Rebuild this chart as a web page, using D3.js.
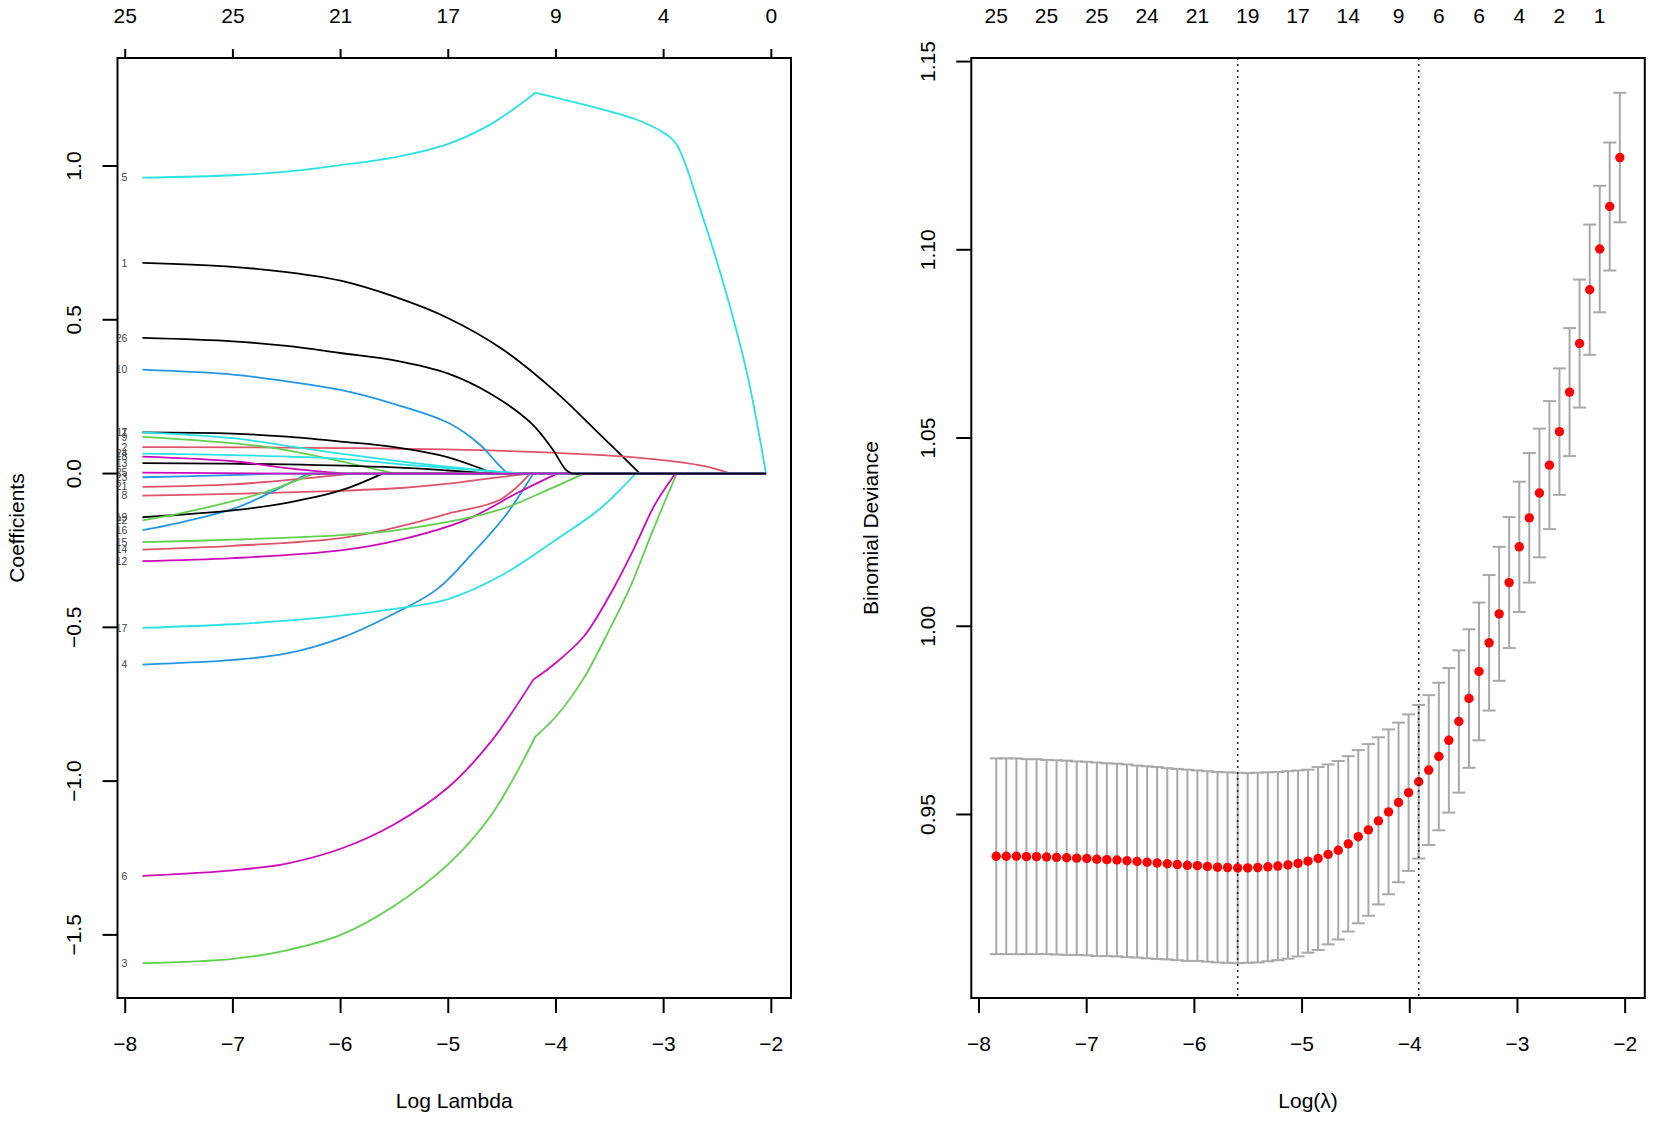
<!DOCTYPE html>
<html>
<head>
<meta charset="utf-8">
<script src="https://cdn.jsdelivr.net/npm/d3@7"></script>
<style>
body { margin: 0; background: #fff; }
svg { display: block; font-family: "Liberation Sans", Arial, sans-serif; }
.tick-text { font-size: 21px; fill: #000; }
.title-text { font-size: 21px; fill: #000; }
.var-label { font-size: 10.5px; fill: #444; }
</style>
</head>
<body>
<div id="chart"></div>
<script>
////////////////////////////////////////////////////////////
//////////////////////// Data //////////////////////////////
////////////////////////////////////////////////////////////

// log(lambda) of the 63 fits on the path
var logLambda = [-7.840,-7.747,-7.653,-7.560,-7.466,-7.373,-7.280,-7.186,-7.093,-6.999,
	-6.906,-6.813,-6.719,-6.626,-6.532,-6.439,-6.346,-6.252,-6.159,-6.065,
	-5.972,-5.879,-5.785,-5.692,-5.598,-5.505,-5.412,-5.318,-5.225,-5.131,
	-5.038,-4.945,-4.851,-4.758,-4.664,-4.571,-4.478,-4.384,-4.291,-4.197,
	-4.104,-4.011,-3.917,-3.824,-3.730,-3.637,-3.544,-3.450,-3.357,-3.263,
	-3.170,-3.077,-2.983,-2.890,-2.796,-2.703,-2.610,-2.516,-2.423,-2.329,
	-2.236,-2.143,-2.049];

// cross-validated binomial deviance and its standard error
var cvm = [0.9389,0.9389,0.9389,0.9388,0.9388,0.9387,0.9386,0.9385,0.9384,0.9383,
	0.9381,0.9380,0.9379,0.9377,0.9375,0.9373,0.9371,0.9369,0.9367,0.9365,
	0.9364,0.9362,0.9360,0.9359,0.9358,0.9358,0.9359,0.9361,0.9363,0.9366,
	0.9370,0.9376,0.9383,0.9394,0.9405,0.9422,0.9441,0.9459,0.9483,0.9507,
	0.9532,0.9558,0.9587,0.9618,0.9654,0.9697,0.9747,0.9808,0.9880,0.9956,
	1.0033,1.0116,1.0211,1.0288,1.0354,1.0428,1.0517,1.0622,1.0751,1.0894,
	1.1002,1.1115,1.1245];

var cvsd = [0.0260,0.0260,0.0260,0.0259,0.0259,0.0258,0.0258,0.0258,0.0257,0.0257,
	0.0257,0.0256,0.0256,0.0256,0.0255,0.0255,0.0255,0.0254,0.0254,0.0254,
	0.0253,0.0253,0.0253,0.0253,0.0253,0.0252,0.0252,0.0251,0.0250,0.0249,
	0.0247,0.0243,0.0243,0.0239,0.0237,0.0233,0.0230,0.0228,0.0222,0.0219,
	0.0212,0.0208,0.0204,0.0199,0.0196,0.0192,0.0189,0.0184,0.0183,0.0180,
	0.0178,0.0174,0.0173,0.0172,0.0171,0.0170,0.0168,0.0170,0.0170,0.0173,
	0.0168,0.0170,0.0172];

var lambdaMinLog = -5.598,
	lambda1seLog = -3.917;

// number of non-zero coefficients printed on top of the CV plot
var cvTopIdx = [0,5,10,15,20,25,30,35,40,44,48,52,56,60];
var cvTopDf  = [25,25,25,24,21,19,17,14,9,6,6,4,2,1];

// coefficient path: variable numbers and [logLambda, coef] knots
// a variable has several pieces where its path has a corner
var coefVars = [1,2,3,4,5,6,7,8,9,10,11,12,13,14,15,16,17,18,19,21,22,23,24,25,26];
var coefKnots = [
	[[[-7.84,0.685],[-7.0,0.672],[-6.5,0.655],[-6.0,0.627],[-5.5,0.575],[-5.0,0.505],[-4.5,0.405],[-4.0,0.265],[-3.6,0.130],[-3.22,0]]],
	[[[-7.84,0.086],[-6.04,0.083],[-4.43,0.073],[-3.22,0.051],[-2.62,0.024],[-2.38,0]]],
	[[[-7.84,-1.592],[-7.0,-1.578],[-6.5,-1.550],[-6.0,-1.500],[-5.5,-1.405],[-5.0,-1.270],[-4.6,-1.110],[-4.19,-0.855]],
	 [[-4.19,-0.855],[-4.0,-0.790],[-3.75,-0.670],[-3.5,-0.505],[-3.3,-0.360],[-3.1,-0.185],[-2.88,0]]],
	[[[-7.84,-0.621],[-7.0,-0.606],[-6.5,-0.585],[-6.0,-0.535],[-5.5,-0.455],[-5.1,-0.375],[-4.77,-0.257],[-4.47,-0.137],[-4.21,0]]],
	[[[-7.84,0.962],[-7.0,0.970],[-6.5,0.982],[-6.0,1.003],[-5.5,1.028],[-5.0,1.072],[-4.6,1.137],[-4.19,1.238]],
	 [[-4.19,1.238],[-3.63,1.190],[-3.26,1.152],[-3.0,1.108],[-2.88,1.070],[-2.66,0.859],[-2.42,0.588],[-2.22,0.317],[-2.05,0]]],
	[[[-7.84,-1.308],[-7.0,-1.290],[-6.5,-1.268],[-6.0,-1.220],[-5.5,-1.140],[-5.0,-1.020],[-4.6,-0.870],[-4.21,-0.670]],
	 [[-4.21,-0.670],[-4.0,-0.615],[-3.74,-0.529],[-3.5,-0.395],[-3.28,-0.247],[-3.08,-0.100],[-2.89,0]]],
	[[[-7.84,0.134],[-7.0,0.130],[-6.5,0.120],[-6.0,0.104],[-5.5,0.086],[-5.0,0.053],[-4.71,0.018],[-4.58,0]]],
	[[[-7.84,-0.072],[-7.0,-0.066],[-6.0,-0.056],[-5.44,-0.047],[-5.0,-0.033],[-4.6,-0.015],[-4.24,0]]],
	[[[-7.84,0.119],[-6.68,0.086],[-6.0,0.040],[-5.5,0]]],
	[[[-7.84,0.338],[-7.0,0.322],[-6.5,0.300],[-6.0,0.272],[-5.5,0.226],[-5.0,0.165],[-4.7,0.092],[-4.55,0.035],[-4.45,0]]],
	[[[-7.84,0.134],[-7.0,0.115],[-6.5,0.090],[-6.0,0.065],[-5.5,0.042],[-5.0,0.022],[-4.6,0.008],[-4.35,0]]],
	[[[-7.84,-0.285],[-7.0,-0.275],[-6.0,-0.250],[-5.44,-0.215],[-4.83,-0.150],[-4.36,-0.063],[-3.99,0]]],
	[[[-7.84,0.034],[-6.5,0.030],[-5.5,0.020],[-5.0,0.010],[-4.6,0]]],
	[[[-7.84,-0.247],[-7.0,-0.235],[-6.0,-0.210],[-5.44,-0.171],[-5.0,-0.130],[-4.52,-0.085],[-4.24,0]]],
	[[[-7.84,-0.223],[-7.0,-0.215],[-6.0,-0.200],[-5.44,-0.182],[-4.52,-0.117],[-4.07,-0.052],[-3.74,0]]],
	[[[-7.84,-0.184],[-7.5,-0.160],[-7.0,-0.115],[-6.7,-0.070],[-6.5,-0.035],[-6.3,0]]],
	[[[-7.84,-0.502],[-7.0,-0.490],[-6.5,-0.478],[-6.0,-0.462],[-5.5,-0.440],[-5.0,-0.408],[-4.5,-0.330],[-4.0,-0.215],[-3.6,-0.117],[-3.26,0]]],
	[[[-7.84,0.055],[-7.0,0.040],[-6.5,0.018],[-5.95,0]]],
	[[[-7.84,-0.142],[-7.0,-0.120],[-6.5,-0.095],[-6.0,-0.055],[-5.61,0]]],
	[[[-7.84,-0.043],[-7.0,-0.035],[-6.4,-0.018],[-5.9,0]]],
	[[[-7.84,-0.152],[-7.5,-0.130],[-7.0,-0.090],[-6.7,-0.060],[-6.5,-0.035],[-6.25,0]]],
	[[[-7.84,-0.012],[-7.2,-0.007],[-6.6,0]]],
	[[[-7.84,0.065],[-7.0,0.060],[-6.0,0.048],[-5.44,0.030],[-5.0,0.018],[-4.5,0.005],[-4.3,0]]],
	[[[-7.84,0.003],[-6.5,0]]],
	[[[-7.84,0.441],[-7.0,0.430],[-6.5,0.415],[-6.0,0.392],[-5.5,0.368],[-5.0,0.325],[-4.6,0.258],[-4.23,0.164],[-4.03,0.078],[-3.91,0.013],[-3.85,0]]]
];

var xTicks = [-8,-7,-6,-5,-4,-3,-2];
var pathTopDf = [25,25,21,17,9,4,0];
var coefTicks = [-1.5,-1,-0.5,0,0.5,1];
var devTicks = [0.95,1.00,1.05,1.10,1.15];

// R 4 default palette, cycled by column like matplot
var rPalette = ["#000000","#DF536B","#61D04F","#2297E6","#28E2E5","#CD0BBC"];

////////////////////////////////////////////////////////////
//////////////////////// Set-up ////////////////////////////
////////////////////////////////////////////////////////////

var width = 1653,
	height = 1122,
	plotTop = 58,
	plotBottom = 998;

var svg = d3.select("#chart").append("svg")
	.attr("width", width)
	.attr("height", height);

//R pads the data range by 4% on each side
function rRange(lo, hi) {
	var pad = (hi - lo) * 0.04;
	return [lo - pad, hi + pad];
}

function fmtMinus(s) { return s.replace("-", "\u2212"); }

var lamExtent = d3.extent(logLambda);

//Box, bottom axis, left axis and titles of one panel
function drawFrame(g, x, y, yTicks, yFormat, xTitle, yTitle, titleX) {
	var x0 = x.range()[0], x1 = x.range()[1];

	g.append("rect")
		.attr("x", x0).attr("y", plotTop)
		.attr("width", x1 - x0).attr("height", plotBottom - plotTop)
		.style("fill", "none").style("stroke", "#000").style("stroke-width", 2);

	//bottom ticks
	g.selectAll(".x-tick")
		.data(xTicks)
		.enter().append("line")
		.attr("x1", function(d) { return x(d); })
		.attr("x2", function(d) { return x(d); })
		.attr("y1", plotBottom)
		.attr("y2", plotBottom + 15)
		.style("stroke", "#000").style("stroke-width", 2);

	g.selectAll(".x-label")
		.data(xTicks)
		.enter().append("text")
		.attr("class", "tick-text")
		.attr("x", function(d) { return x(d); })
		.attr("y", 1043)
		.attr("dy", "0.36em")
		.style("text-anchor", "middle")
		.text(function(d) { return fmtMinus(String(d)); });

	//left ticks
	g.selectAll(".y-tick")
		.data(yTicks)
		.enter().append("line")
		.attr("x1", x0 - 15)
		.attr("x2", x0)
		.attr("y1", function(d) { return y(d); })
		.attr("y2", function(d) { return y(d); })
		.style("stroke", "#000").style("stroke-width", 2);

	g.selectAll(".y-label")
		.data(yTicks)
		.enter().append("text")
		.attr("class", "tick-text")
		.attr("transform", function(d) { return "translate(" + (x0 - 44) + "," + y(d) + ")rotate(-90)"; })
		.attr("dy", "0.36em")
		.style("text-anchor", "middle")
		.text(function(d) { return fmtMinus(yFormat(d)); });

	//axis titles
	g.append("text")
		.attr("class", "title-text")
		.attr("x", (x0 + x1) / 2)
		.attr("y", 1100)
		.attr("dy", "0.36em")
		.style("text-anchor", "middle")
		.text(xTitle);

	g.append("text")
		.attr("class", "title-text")
		.attr("transform", "translate(" + titleX + "," + (plotTop + plotBottom) / 2 + ")rotate(-90)")
		.attr("dy", "0.36em")
		.style("text-anchor", "middle")
		.text(yTitle);
}

////////////////////////////////////////////////////////////
//////////////// Left: coefficient paths ///////////////////
////////////////////////////////////////////////////////////

var allCoef = [];
coefKnots.forEach(function(pieces) {
	pieces.forEach(function(p) { p.forEach(function(k) { allCoef.push(k[1]); }); });
});

var xL = d3.scaleLinear()
	.domain(rRange(lamExtent[0], lamExtent[1]))
	.range([117.5, 791]);

var yL = d3.scaleLinear()
	.domain(rRange(d3.min(allCoef), d3.max(allCoef)))
	.range([plotBottom, plotTop]);

var leftPanel = svg.append("g").attr("class", "coef-panel");

leftPanel.append("clipPath")
	.attr("id", "clip-left")
	.append("rect")
	.attr("x", xL.range()[0] + 1).attr("y", plotTop)
	.attr("width", xL.range()[1] - xL.range()[0] - 1)
	.attr("height", plotBottom - plotTop);

var coefLine = d3.line()
	.x(function(d) { return xL(d[0]); })
	.y(function(d) { return yL(d[1]); })
	.curve(d3.curveCatmullRom.alpha(0.5));

//Build one continuous path per variable, then run it along zero to the end
function coefPath(pieces) {
	var d = pieces.map(function(p, i) {
		var s = coefLine(p);
		return i === 0 ? s : s.replace(/^M/, "L");
	}).join("");
	var lastPiece = pieces[pieces.length - 1],
		lastKnot = lastPiece[lastPiece.length - 1];
	if (lastKnot[0] < lamExtent[1]) d += "L" + xL(lamExtent[1]) + "," + yL(0);
	return d;
}

var pathGroup = leftPanel.append("g").attr("clip-path", "url(#clip-left)");

pathGroup.selectAll(".coef-line")
	.data(coefKnots)
	.enter().append("path")
	.attr("class", "coef-line")
	.attr("d", coefPath)
	.style("fill", "none")
	.style("stroke", function(d, i) { return rPalette[i % rPalette.length]; })
	.style("stroke-width", 1.8);

//Variable numbers at the start of each path (clipped at the box like R)
pathGroup.selectAll(".var-label")
	.data(coefKnots)
	.enter().append("text")
	.attr("class", "var-label")
	.attr("x", xL(lamExtent[0]) - 15)
	.attr("y", function(d) { return yL(d[0][0][1]); })
	.attr("dy", "0.35em")
	.style("text-anchor", "end")
	.text(function(d, i) { return coefVars[i]; });

drawFrame(leftPanel, xL, yL, coefTicks, d3.format(".1f"), "Log Lambda", "Coefficients", 16);

//Top axis: number of non-zero coefficients
leftPanel.selectAll(".top-tick")
	.data(xTicks)
	.enter().append("line")
	.attr("x1", function(d) { return xL(d); })
	.attr("x2", function(d) { return xL(d); })
	.attr("y1", plotTop)
	.attr("y2", plotTop - 9)
	.style("stroke", "#000").style("stroke-width", 2);

leftPanel.selectAll(".top-label")
	.data(xTicks)
	.enter().append("text")
	.attr("class", "tick-text")
	.attr("x", function(d) { return xL(d); })
	.attr("y", 15)
	.attr("dy", "0.36em")
	.style("text-anchor", "middle")
	.text(function(d, i) { return pathTopDf[i]; });

////////////////////////////////////////////////////////////
//////////////// Right: CV deviance ////////////////////////
////////////////////////////////////////////////////////////

var cvData = logLambda.map(function(l, i) {
	return { lam: l, m: cvm[i], up: cvm[i] + cvsd[i], lo: cvm[i] - cvsd[i] };
});

var xR = d3.scaleLinear()
	.domain(rRange(lamExtent[0], lamExtent[1]))
	.range([971.3, 1644.8]);

var yR = d3.scaleLinear()
	.domain(rRange(d3.min(cvData, function(d) { return d.lo; }), d3.max(cvData, function(d) { return d.up; })))
	.range([plotBottom, plotTop]);

var rightPanel = svg.append("g").attr("class", "cv-panel");

var capHalf = 6.5;

var bars = rightPanel.selectAll(".err-bar")
	.data(cvData)
	.enter().append("g")
	.attr("class", "err-bar")
	.style("stroke", "#A9A9A9")
	.style("stroke-width", 2);

bars.append("line")
	.attr("x1", function(d) { return xR(d.lam); })
	.attr("x2", function(d) { return xR(d.lam); })
	.attr("y1", function(d) { return yR(d.up); })
	.attr("y2", function(d) { return yR(d.lo); });

bars.append("line")
	.attr("x1", function(d) { return xR(d.lam) - capHalf; })
	.attr("x2", function(d) { return xR(d.lam) + capHalf; })
	.attr("y1", function(d) { return yR(d.up); })
	.attr("y2", function(d) { return yR(d.up); });

bars.append("line")
	.attr("x1", function(d) { return xR(d.lam) - capHalf; })
	.attr("x2", function(d) { return xR(d.lam) + capHalf; })
	.attr("y1", function(d) { return yR(d.lo); })
	.attr("y2", function(d) { return yR(d.lo); });

rightPanel.selectAll(".cv-point")
	.data(cvData)
	.enter().append("circle")
	.attr("class", "cv-point")
	.attr("cx", function(d) { return xR(d.lam); })
	.attr("cy", function(d) { return yR(d.m); })
	.attr("r", 4.7)
	.style("fill", "#FF0000");

//lambda.min and lambda.1se
rightPanel.selectAll(".lambda-line")
	.data([lambdaMinLog, lambda1seLog])
	.enter().append("line")
	.attr("class", "lambda-line")
	.attr("x1", function(d) { return xR(d); })
	.attr("x2", function(d) { return xR(d); })
	.attr("y1", plotTop)
	.attr("y2", plotBottom)
	.style("stroke", "#222")
	.style("stroke-width", 1.6)
	.style("stroke-dasharray", "2,4");

drawFrame(rightPanel, xR, yR, devTicks, d3.format(".2f"), "Log(\u03bb)", "Binomial Deviance", 870);

rightPanel.selectAll(".top-label")
	.data(cvTopIdx)
	.enter().append("text")
	.attr("class", "tick-text")
	.attr("x", function(d) { return xR(logLambda[d]); })
	.attr("y", 15)
	.attr("dy", "0.36em")
	.style("text-anchor", "middle")
	.text(function(d, i) { return cvTopDf[i]; });
</script>
</body>
</html>
